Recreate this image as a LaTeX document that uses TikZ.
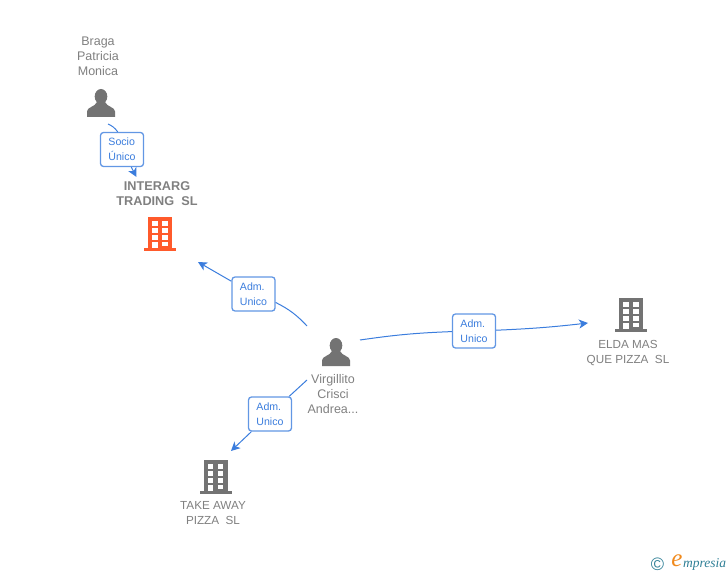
\documentclass[tikz,border=0pt]{standalone}
\usepackage{fontspec}
\setmainfont{Liberation Sans}
\newfontfamily\logofont{Liberation Serif}
\usetikzlibrary{arrows.meta}
\definecolor{linkblue}{HTML}{3B7DDD}
\definecolor{labelgrey}{HTML}{808080}
\definecolor{icongrey}{HTML}{737373}
\definecolor{firmorange}{HTML}{FF5A2B}
\definecolor{logoteal}{HTML}{2F7F96}
\definecolor{logoorange}{HTML}{F08A1D}
\tikzset{
  nametext/.style={text=labelgrey,align=center,inner sep=0,font=\fontsize{12.5}{15}\selectfont},
  firmtext/.style={nametext,font=\fontsize{11.7}{15}\selectfont},
  rolebox/.style={draw=linkblue!80,line width=1.3pt,rounded corners=3pt,fill=white,text=linkblue,
    minimum width=43pt,minimum height=34pt,inner sep=0,align=left,font=\fontsize{10.6}{15}\selectfont},
  link/.style={draw=linkblue,line width=1pt},
  linktip/.style={-{Stealth[length=9pt,width=9pt,inset=2.5pt]}}
}
% building: centre x, top y, colour
\newcommand{\firm}[3]{
\fill[#3] (#1-12,#2) rectangle (#1+12,#2+31);
\fill[#3] (#1-16,#2+31) rectangle (#1+16,#2+34);
\foreach \rowy in {4,11,18}{
\fill[white] (#1-8,#2+\rowy) rectangle (#1-2.5,#2+\rowy+4.5);
\fill[white] (#1+2,#2+\rowy) rectangle (#1+7.5,#2+\rowy+4.5);
}
\fill[white] (#1-8,#2+24.5) rectangle (#1-2.5,#2+31);
\fill[white] (#1+2,#2+24.5) rectangle (#1+7.5,#2+29);
}
% person: centre x, top y
\newcommand{\person}[2]{
\fill[icongrey] (#1,#2+7.5) ellipse (6.3 and 7.5);
\fill[icongrey] (#1-14,#2+28) -- (#1-14,#2+22.5) .. controls (#1-14,#2+18) and (#1-6,#2+18) .. (#1-4,#2+13)
 -- (#1+4,#2+13) .. controls (#1+6,#2+18) and (#1+14,#2+18) .. (#1+14,#2+22.5) -- (#1+14,#2+28) -- cycle;
}
\begin{document}
\begin{tikzpicture}[x=1pt,y=-1pt]
\useasboundingbox (0,0) rectangle (728,575);
\person{101}{89}
\person{336}{338}
\firm{160}{217}{firmorange}
\firm{631}{298}{icongrey}
\firm{215.5}{460}{icongrey}
\node[nametext] (braga) at (98,56) {Braga\\Patricia\\Monica};
\node[nametext,font=\fontsize{12.7}{15}\selectfont\bfseries] (interarg) at (157,194) {INTERARG\\TRADING\ \ SL};
\node[nametext] (virgillito) at (333,394) {Virgillito\\Crisci\\Andrea...};
\node[firmtext] (elda) at (628,353) {ELDA MAS\\QUE PIZZA\ \ SL};
\node[firmtext] (takeaway) at (213,513.5) {TAKE AWAY\\PIZZA\ \ SL};
\node[rolebox] (socio) at (122,149.5) {Socio\\Único};
\node[rolebox] (adminterarg) at (253.5,294) {Adm.\\Unico};
\node[rolebox] (admelda) at (474,331) {Adm.\\Unico};
\node[rolebox] (admtake) at (270,414) {Adm.\\Unico};
\coordinate (bragaout) at (108,124);
\coordinate (interargin) at (136.5,177);
\coordinate (virgup) at (307,326);
\coordinate (virgright) at (360,340);
\coordinate (virgdown) at (307,380);
\coordinate (firmup) at (198,262);
\coordinate (firmright) at (588,323);
\coordinate (firmdown) at (231,451);
\draw[link] (bragaout) to[bend left=15] (socio);
\draw[link,linktip] (socio) -- (interargin);
\draw[link] (virgup) to[bend right=10] (adminterarg);
\draw[link,linktip] (adminterarg) -- (firmup);
\draw[link] (virgright) to[bend left=3] (admelda);
\draw[link,linktip] (admelda) to[bend right=2] (firmright);
\draw[link] (virgdown) -- (admtake);
\draw[link,linktip] (admtake) -- (firmdown);
\node[text=logoteal,inner sep=0,font=\fontsize{18}{18}\selectfont] (copyr) at (657.5,564) {©};
\node[text=logoorange,inner sep=0,font=\logofont\fontsize{25}{25}\selectfont\itshape] (logoe) at (677,561) {e};
\node[text=logoteal,inner sep=0,anchor=west,font=\logofont\fontsize{13.5}{14}\selectfont\itshape] (logo) at (683,564) {mpresia};
\end{tikzpicture}
\end{document}
